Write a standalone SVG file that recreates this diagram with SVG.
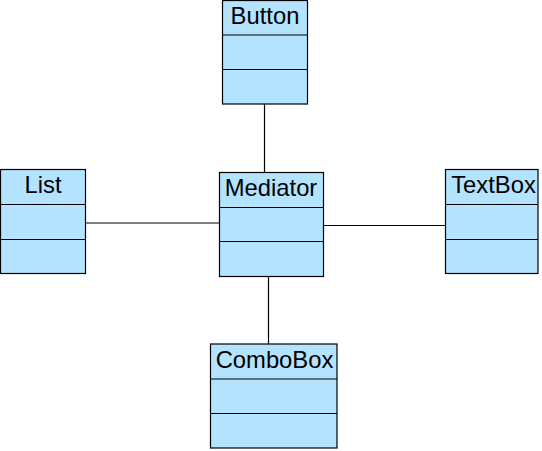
<svg xmlns="http://www.w3.org/2000/svg" width="542" height="451" viewBox="0 0 542 451">
<style>
.box{fill:#b3e3ff;stroke:#000;stroke-width:1.2}
.div{stroke:#000;stroke-width:1.2;fill:none}
.lbl{font-family:"Liberation Sans",Arial,sans-serif;font-size:23.8px;text-anchor:middle;fill:#000}
.conn line{stroke:#000;stroke-width:1.2}
</style>
<rect width="542" height="451" fill="#fff"/>
<g class="conn" id="connectors">
<line x1="264.5" y1="104" x2="264.5" y2="172.5"/>
<line x1="85.5" y1="223" x2="219.5" y2="223"/>
<line x1="323.5" y1="225.5" x2="445.5" y2="225.5"/>
<line x1="268.5" y1="276.5" x2="268.5" y2="344"/>
</g>
<g id="button">
<rect class="box" x="222.5" y="0.5" width="85" height="103.5"/>
<path class="div" d="M222.5 35H307.5M222.5 69.5H307.5"/>
<text class="lbl" x="265" y="24">Button</text>
</g>
<g id="list">
<rect class="box" x="0.5" y="169.5" width="85" height="104"/>
<path class="div" d="M0.5 204.5H85.5M0.5 239.5H85.5"/>
<text class="lbl" x="43" y="193">List</text>
</g>
<g id="mediator">
<rect class="box" x="219.5" y="172.5" width="104" height="104"/>
<path class="div" d="M219.5 207.5H323.5M219.5 241.5H323.5"/>
<text class="lbl" x="271" y="196">Mediator</text>
</g>
<g id="textbox">
<rect class="box" x="445.5" y="169.5" width="92.5" height="104"/>
<path class="div" d="M445.5 204.5H538M445.5 239.5H538"/>
<text class="lbl" x="493.5" y="193">TextBox</text>
</g>
<g id="combobox">
<rect class="box" x="210.5" y="344" width="126.5" height="104"/>
<path class="div" d="M210.5 379H337M210.5 413.5H337"/>
<text class="lbl" x="274.5" y="367.5">ComboBox</text>
</g>
</svg>
